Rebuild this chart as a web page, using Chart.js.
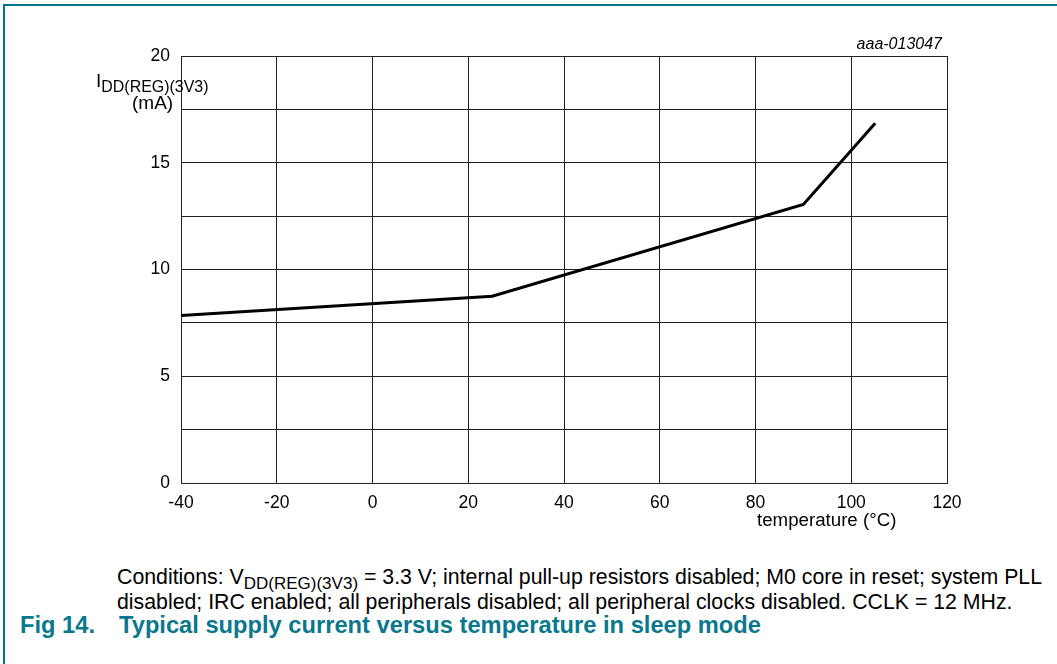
<!DOCTYPE html>
<html>
<head>
<meta charset="utf-8">
<script src="https://cdn.jsdelivr.net/npm/chart.js@4/dist/chart.umd.min.js"></script>
<style>
  html, body { margin: 0; padding: 0; background: #fff; }
  body { width: 1057px; height: 664px; position: relative; overflow: hidden;
         font-family: "Liberation Sans", Arial, sans-serif; color: #000; }
  .frame-top { position: absolute; left: 3px; top: 4px; width: 1054px; height: 2px; background: #00758a; }
  .frame-left { position: absolute; left: 3px; top: 4px; width: 2px; height: 660px; background: #00758a; }
  #chart { position: absolute; left: 0; top: 0; }
  .txt { position: absolute; white-space: nowrap; }
  sub { font-size: 0.8em; vertical-align: -0.3em; line-height: 0; }
  #code { right: 115px; top: 35px; font-size: 16px; font-style: italic; }
  #ytitle { left: 96px; top: 70px; font-size: 19px; line-height: 22px; }
  #ytitle sub { font-size: 0.84em; }
  #ytitle .mA { display: block; padding-left: 36px; }
  #xtitle { left: 757px; top: 509px; font-size: 18.7px; }
  #cond { left: 117px; top: 565px; font-size: 21.3px; line-height: 25px; }
  #fig { left: 20px; top: 612px; font-size: 23.7px; font-weight: bold; color: #0a788c; }
  #fig .t { position: absolute; left: 99px; }
</style>
</head>
<body>
<div class="frame-top"></div>
<div class="frame-left"></div>
<canvas id="chart" width="1057" height="540"></canvas>
<div class="txt" id="code">aaa-013047</div>
<div class="txt" id="ytitle">I<sub>DD(REG)(3V3)</sub><span class="mA">(mA)</span></div>
<div class="txt" id="xtitle">temperature (°C)</div>
<div class="txt" id="cond">Conditions: V<sub>DD(REG)(3V3)</sub> = 3.3 V; internal pull-up resistors disabled; M0 core in reset; system PLL<br>disabled; IRC enabled; all peripherals disabled; all peripheral clocks disabled. CCLK = 12 MHz.</div>
<div class="txt" id="fig">Fig 14.<span class="t">Typical supply current versus temperature in sleep mode</span></div>
<script>
// temperature (°C) and supply current (mA)
const temps = [-40, 25, 90, 105];
const currents = [7.85, 8.75, 13.05, 16.85];

const xMin = -40, xMax = 120, xStep = 20;
const yMin = 0, yMax = 20, yStep = 2.5, yLabelStep = 5;

const points = temps.map((t, i) => ({ x: t, y: currents[i] }));

new Chart(document.getElementById('chart'), {
  type: 'scatter',
  data: {
    datasets: [{
      data: points,
      showLine: true,
      borderColor: '#000',
      borderWidth: 3,
      pointRadius: 0,
      tension: 0
    }]
  },
  options: {
    responsive: false,
    animation: false,
    devicePixelRatio: 1,
    layout: { padding: { left: 131, top: 56, right: 110, bottom: 17 } },
    plugins: { legend: { display: false }, tooltip: { enabled: false } },
    scales: {
      x: {
        type: 'linear',
        min: xMin, max: xMax,
        afterFit: s => { s.height = 40; },
        ticks: { stepSize: xStep, color: '#000', padding: 10,
                 font: { family: 'Liberation Sans', size: 17.5 } },
        grid: { color: '#222', lineWidth: 1, drawTicks: false },
        border: { color: '#222', width: 1 }
      },
      y: {
        type: 'linear',
        min: yMin, max: yMax,
        afterFit: s => { s.width = 50; },
        ticks: { stepSize: yStep, color: '#000', padding: 11,
                 font: { family: 'Liberation Sans', size: 17.5 },
                 callback: v => (v % yLabelStep === 0 ? v : '') },
        grid: { color: '#222', lineWidth: 1, drawTicks: false },
        border: { color: '#222', width: 1 }
      }
    }
  }
});
</script>
</body>
</html>
